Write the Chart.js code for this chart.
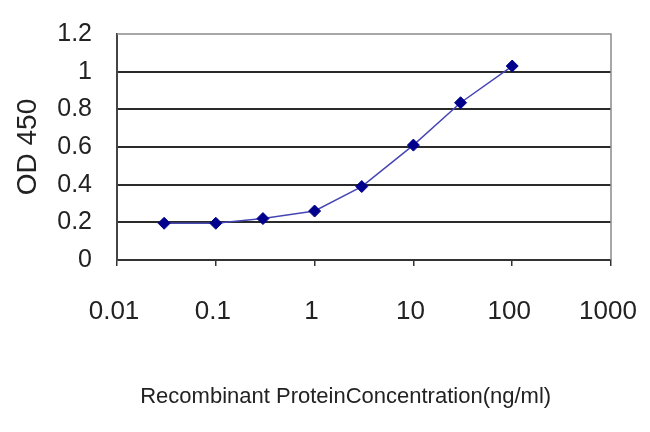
<!DOCTYPE html>
<html>
<head>
<meta charset="utf-8">
<script src="https://cdn.jsdelivr.net/npm/chart.js@4/dist/chart.umd.min.js"></script>
<style>
  html, body { margin: 0; padding: 0; background: #ffffff; }
  #wrap { width: 650px; height: 432px; }
</style>
</head>
<body>
<div id="wrap"><canvas id="c" width="650" height="432"></canvas></div>
<script>
// ---- data ----
const concentrations = [0.03, 0.1, 0.3, 1, 3, 10, 30, 100];
const odValues = [0.195, 0.195, 0.22, 0.26, 0.39, 0.61, 0.835, 1.03];
const xTickValues = [0.01, 0.1, 1, 10, 100, 1000];
const xTickLabels = ["0.01", "0.1", "1", "10", "100", "1000"];
const yTickValues = [0, 0.2, 0.4, 0.6, 0.8, 1, 1.2];
const yTickLabels = ["0", "0.2", "0.4", "0.6", "0.8", "1", "1.2"];
const xTitle = "Recombinant ProteinConcentration(ng/ml)      ";
const yTitle = "OD 450";

const points = concentrations.map((c, i) => ({ x: c, y: odValues[i] }));

const frame = {
  id: 'frame',
  beforeDatasetsDraw(chart) {
    const { ctx, chartArea: a } = chart;
    ctx.save();
    ctx.strokeStyle = '#8a8a8a';
    ctx.lineWidth = 1.5;
    ctx.beginPath();
    ctx.moveTo(a.left, a.top);
    ctx.lineTo(a.right, a.top);
    ctx.lineTo(a.right, a.bottom);
    ctx.stroke();
    ctx.restore();
  }
};

function zeroPad(scale) {
  scale.paddingLeft = 0;
  scale.paddingRight = 0;
  scale.paddingTop = 0;
  scale.paddingBottom = 0;
}

new Chart(document.getElementById('c'), {
  type: 'line',
  data: {
    datasets: [{
      data: points,
      borderColor: '#4646b4',
      borderWidth: 1.5,
      pointStyle: 'rectRot',
      pointRadius: 6,
      pointBorderWidth: 1,
      pointBackgroundColor: '#00008c',
      pointBorderColor: '#00008c',
      tension: 0,
      fill: false
    }]
  },
  options: {
    responsive: false,
    animation: false,
    devicePixelRatio: 1,
    layout: { padding: { top: 34, right: 39, left: 0, bottom: 0 } },
    plugins: { legend: { display: false }, tooltip: { enabled: false } },
    scales: {
      x: {
        type: 'logarithmic',
        position: 'bottom',
        min: 0.01,
        max: 1000,
        afterBuildTicks(scale) { scale.ticks = xTickValues.map(v => ({ value: v })); },
        afterFit(scale) { scale.height = 432 - 260; zeroPad(scale); },
        ticks: {
          autoSkip: false,
          maxRotation: 0,
          padding: 30,
          labelOffset: -3,
          color: '#222',
          font: { family: 'Liberation Sans', size: 26 },
          callback(value, index) { return xTickLabels[index]; }
        },
        grid: { drawOnChartArea: false, drawTicks: true, tickLength: 6, color: '#333', lineWidth: 1.5 },
        border: { display: true, color: '#333', width: 2 },
        title: {
          display: true,
          text: xTitle,
          color: '#222',
          font: { family: 'Liberation Sans', size: 22 },
          padding: { top: 0, bottom: 22 }
        }
      },
      y: {
        type: 'linear',
        min: 0,
        max: 1.2,
        afterBuildTicks(scale) { scale.ticks = yTickValues.map(v => ({ value: v })); },
        afterFit(scale) { scale.width = 117; zeroPad(scale); },
        ticks: {
          padding: 25,
          color: '#222',
          font: { family: 'Liberation Sans', size: 25 },
          callback(value, index) { return yTickLabels[index]; }
        },
        grid: {
          drawTicks: false,
          color: (ctx) => (ctx.tick && ctx.tick.value >= 1.19) ? 'rgba(0,0,0,0)' : '#2a2a2a',
          lineWidth: 2
        },
        border: { display: true, color: '#444', width: 2 },
        title: {
          display: true,
          text: yTitle,
          color: '#222',
          font: { family: 'Liberation Sans', size: 28 },
          padding: { top: 11, bottom: 0 }
        }
      }
    }
  },
  plugins: [frame]
});
</script>
</body>
</html>
